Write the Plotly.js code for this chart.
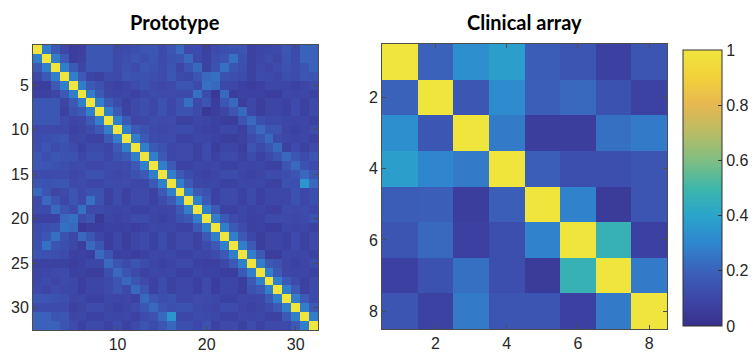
<!DOCTYPE html>
<html>
<head>
<meta charset="utf-8">
<script src="https://cdn.plot.ly/plotly-3.0.1.min.js"></script>
<style>html,body{margin:0;padding:0;background:#fff;}#chart{width:756px;height:360px;}</style>
</head>
<body>
<div id="chart"></div>
<script>
// ---- data ----
const protoTitle = "Prototype";
const clinicalTitle = "Clinical array";
const protoIndex = [1,2,3,4,5,6,7,8,9,10,11,12,13,14,15,16,17,18,19,20,21,22,23,24,25,26,27,28,29,30,31,32];
const clinicalIndex = [1,2,3,4,5,6,7,8];
const protoTicks = [10,20,30];
const protoYTicks = [5,10,15,20,25,30];
const clinicalTicks = [2,4,6,8];
const cbTicks = [0,0.2,0.4,0.6,0.8,1];
const cbTickText = ["0","0.2","0.4","0.6","0.8","1"];

const prototype = [
[1,.28,.17,.10,.06,.07,.16,.16,.16,.11,.12,.13,.15,.16,.12,.15,.22,.11,.12,.08,.12,.13,.14,.15,.08,.09,.10,.11,.16,.12,.20,.20],
[.28,1,.28,.17,.06,.08,.16,.16,.16,.11,.13,.15,.13,.15,.12,.14,.15,.22,.11,.08,.13,.15,.24,.14,.08,.10,.12,.09,.15,.12,.20,.20],
[.17,.28,1,.28,.17,.09,.16,.16,.16,.11,.14,.12,.16,.14,.12,.15,.09,.15,.22,.08,.14,.24,.15,.13,.08,.11,.09,.12,.14,.12,.15,.20],
[.10,.17,.28,1,.28,.17,.09,.08,.12,.11,.15,.14,.14,.13,.12,.16,.11,.10,.15,.22,.24,.14,.13,.12,.08,.12,.11,.10,.13,.12,.16,.15],
[.06,.06,.17,.28,1,.28,.17,.14,.09,.08,.09,.12,.14,.11,.10,.11,.15,.15,.12,.24,.22,.10,.10,.07,.06,.07,.10,.10,.09,.08,.09,.12],
[.07,.08,.09,.17,.28,1,.28,.17,.10,.09,.10,.08,.10,.12,.11,.12,.11,.11,.24,.12,.04,.22,.06,.08,.07,.08,.06,.06,.10,.09,.10,.08],
[.16,.16,.16,.09,.17,.28,1,.28,.17,.12,.08,.11,.13,.10,.14,.10,.14,.24,.11,.15,.06,.15,.22,.06,.10,.06,.09,.09,.08,.12,.08,.11],
[.16,.16,.16,.08,.14,.17,.28,1,.28,.17,.08,.11,.13,.10,.14,.10,.14,.14,.11,.04,.06,.09,.15,.22,.10,.06,.09,.09,.08,.12,.08,.11],
[.16,.16,.16,.12,.09,.10,.17,.28,1,.28,.17,.09,.10,.12,.11,.12,.08,.08,.10,.09,.08,.06,.06,.15,.22,.13,.11,.11,.10,.09,.10,.08],
[.11,.11,.11,.11,.08,.09,.12,.17,.28,1,.28,.17,.14,.11,.10,.11,.12,.12,.09,.08,.07,.10,.10,.07,.15,.22,.15,.15,.09,.08,.09,.12],
[.12,.13,.14,.15,.09,.10,.08,.08,.17,.28,1,.28,.17,.12,.11,.12,.08,.08,.10,.09,.08,.06,.06,.08,.12,.15,.22,.11,.10,.09,.10,.08],
[.13,.15,.12,.14,.12,.08,.11,.11,.09,.17,.28,1,.28,.17,.14,.10,.11,.11,.08,.12,.06,.09,.09,.06,.15,.11,.15,.22,.08,.12,.08,.11],
[.15,.13,.16,.14,.14,.10,.13,.13,.10,.14,.17,.28,1,.28,.17,.10,.11,.11,.08,.12,.08,.11,.11,.08,.12,.08,.11,.15,.22,.16,.12,.15],
[.16,.15,.14,.13,.11,.12,.10,.10,.12,.11,.12,.17,.28,1,.28,.17,.08,.08,.10,.09,.10,.08,.08,.10,.09,.10,.08,.08,.15,.22,.14,.12],
[.12,.12,.12,.12,.10,.11,.14,.14,.11,.10,.11,.14,.17,.28,1,.28,.17,.12,.09,.08,.09,.12,.12,.09,.08,.09,.12,.12,.13,.15,.22,.16],
[.15,.14,.15,.16,.11,.12,.10,.10,.12,.11,.12,.10,.10,.17,.28,1,.28,.17,.10,.09,.10,.08,.08,.10,.09,.10,.08,.08,.14,.13,.35,.22],
[.22,.15,.09,.11,.15,.11,.14,.14,.08,.12,.08,.11,.11,.08,.17,.28,1,.28,.17,.14,.08,.11,.11,.08,.11,.07,.10,.10,.10,.14,.10,.13],
[.11,.22,.15,.10,.15,.11,.24,.14,.08,.12,.08,.11,.11,.08,.12,.17,.28,1,.28,.17,.08,.11,.11,.08,.11,.07,.10,.10,.10,.14,.10,.13],
[.12,.11,.22,.15,.12,.24,.11,.11,.10,.09,.10,.08,.08,.10,.09,.10,.17,.28,1,.28,.17,.08,.08,.10,.08,.09,.07,.07,.12,.11,.12,.10],
[.08,.08,.08,.22,.24,.12,.15,.04,.09,.08,.09,.12,.12,.09,.08,.09,.14,.17,.28,1,.28,.17,.12,.09,.07,.08,.11,.11,.11,.10,.11,.14],
[.12,.13,.14,.24,.22,.04,.06,.06,.08,.07,.08,.06,.08,.10,.09,.10,.08,.08,.17,.28,1,.28,.17,.12,.07,.08,.06,.06,.10,.09,.10,.08],
[.13,.15,.24,.14,.10,.22,.15,.09,.06,.10,.06,.09,.11,.08,.12,.08,.11,.11,.08,.17,.28,1,.28,.17,.10,.06,.09,.09,.08,.12,.08,.11],
[.14,.24,.15,.13,.10,.06,.22,.15,.06,.10,.06,.09,.11,.08,.12,.08,.11,.11,.08,.12,.17,.28,1,.28,.17,.06,.09,.09,.08,.12,.08,.11],
[.15,.14,.13,.12,.07,.08,.06,.22,.15,.07,.08,.06,.08,.10,.09,.10,.08,.08,.10,.09,.12,.17,.28,1,.28,.17,.06,.06,.10,.09,.10,.08],
[.08,.08,.08,.08,.06,.07,.10,.10,.22,.15,.12,.15,.12,.09,.08,.09,.11,.11,.08,.07,.07,.10,.17,.28,1,.28,.17,.14,.09,.08,.09,.12],
[.09,.10,.11,.12,.07,.08,.06,.06,.13,.22,.15,.11,.08,.10,.09,.10,.07,.07,.09,.08,.08,.06,.06,.17,.28,1,.28,.17,.10,.09,.10,.08],
[.10,.12,.09,.11,.10,.06,.09,.09,.11,.15,.22,.15,.11,.08,.12,.08,.10,.10,.07,.11,.06,.09,.09,.06,.17,.28,1,.28,.17,.12,.08,.11],
[.11,.09,.12,.10,.10,.06,.09,.09,.11,.15,.11,.22,.15,.08,.12,.08,.10,.10,.07,.11,.06,.09,.09,.06,.14,.17,.28,1,.28,.17,.08,.11],
[.16,.15,.14,.13,.09,.10,.08,.08,.10,.09,.10,.08,.22,.15,.13,.14,.10,.10,.12,.11,.10,.08,.08,.10,.09,.10,.17,.28,1,.28,.17,.11],
[.12,.12,.12,.12,.08,.09,.12,.12,.09,.08,.09,.12,.16,.22,.15,.13,.14,.14,.11,.10,.09,.12,.12,.09,.08,.09,.12,.17,.28,1,.28,.17],
[.20,.20,.15,.16,.09,.10,.08,.08,.10,.09,.10,.08,.12,.14,.22,.35,.10,.10,.12,.11,.10,.08,.08,.10,.09,.10,.08,.08,.17,.28,1,.28],
[.20,.20,.20,.15,.12,.08,.11,.11,.08,.12,.08,.11,.15,.12,.16,.22,.13,.13,.10,.14,.08,.11,.11,.08,.12,.08,.11,.11,.11,.17,.28,1]
];

const clinical = [
[1,.20,.33,.38,.18,.15,.07,.15],
[.20,1,.16,.32,.19,.22,.14,.08],
[.33,.16,1,.27,.06,.06,.24,.27],
[.38,.30,.27,1,.19,.13,.13,.15],
[.18,.19,.06,.19,1,.29,.05,.15],
[.15,.22,.07,.13,.29,1,.47,.07],
[.07,.14,.24,.13,.05,.47,1,.27],
[.15,.08,.27,.15,.15,.07,.27,1]
];

// ---- styles ----
const parulaLike = [
[0.0,'#39308c'],[0.1,'#3d47a8'],[0.2,'#3b62bb'],[0.3,'#2f86cf'],[0.4,'#2aa4cb'],
[0.5,'#3db7a9'],[0.6,'#80be82'],[0.7,'#b9bc66'],[0.8,'#e5b851'],[0.9,'#f3d13b'],[1.0,'#efe53c']
];
const tickFont = {family:'"Liberation Sans", Arial, sans-serif', size:16, color:'#262626'};
const axisCommon = {
  showline:true, mirror:'ticks', linecolor:'#4d4d4d', linewidth:1,
  ticks:'inside', ticklen:4, tickcolor:'#4d4d4d', tickwidth:1,
  showgrid:false, zeroline:false, tickfont:tickFont, fixedrange:true
};

const traces = [
  {type:'heatmap', x:protoIndex, y:protoIndex, z:prototype, xaxis:'x', yaxis:'y',
   zmin:0, zmax:1, colorscale:parulaLike, showscale:false, hoverinfo:'skip'},
  {type:'heatmap', x:clinicalIndex, y:clinicalIndex, z:clinical, xaxis:'x2', yaxis:'y2',
   zmin:0, zmax:1, colorscale:parulaLike, showscale:true, hoverinfo:'skip',
   colorbar:{x:683/756, xanchor:'left', xref:'paper', y:34/360, yanchor:'bottom', yref:'paper',
     len:276/360, lenmode:'fraction', thickness:39, thicknessmode:'pixels',
     xpad:0, ypad:0, outlinewidth:1, outlinecolor:'#333',
     tickvals:cbTicks, ticktext:cbTickText, ticks:'inside', ticklen:4, tickcolor:'#333',
     tickfont:tickFont}}
];

const layout = {
  width:756, height:360, margin:{l:0,r:0,t:0,b:0},
  paper_bgcolor:'#fff', plot_bgcolor:'#fff', showlegend:false,
  xaxis: Object.assign({}, axisCommon, {domain:[33/756, 318/756], range:[0.5,32.5], tickvals:protoTicks, anchor:'y'}),
  yaxis: Object.assign({}, axisCommon, {domain:[30/360, 315/360], range:[32.5,0.5], tickvals:protoYTicks, anchor:'x'}),
  xaxis2: Object.assign({}, axisCommon, {domain:[382/756, 667/756], range:[0.5,8.5], tickvals:clinicalTicks, anchor:'y2'}),
  yaxis2: Object.assign({}, axisCommon, {domain:[31/360, 316/360], range:[8.5,0.5], tickvals:clinicalTicks, anchor:'x2'}),
  annotations:[
    {text:'<b>'+protoTitle+'</b>', xref:'paper', yref:'paper', x:175/756, y:(360-22)/360,
     xanchor:'center', yanchor:'middle', showarrow:false,
     font:{family:'Lato, "Liberation Sans", sans-serif', size:20, color:'#000'}},
    {text:'<b>'+clinicalTitle+'</b>', xref:'paper', yref:'paper', x:524/756, y:(360-22)/360,
     xanchor:'center', yanchor:'middle', showarrow:false,
     font:{family:'Lato, "Liberation Sans", sans-serif', size:20, color:'#000'}}
  ]
};

Plotly.newPlot('chart', traces, layout, {staticPlot:true, displayModeBar:false});
</script>
</body>
</html>
